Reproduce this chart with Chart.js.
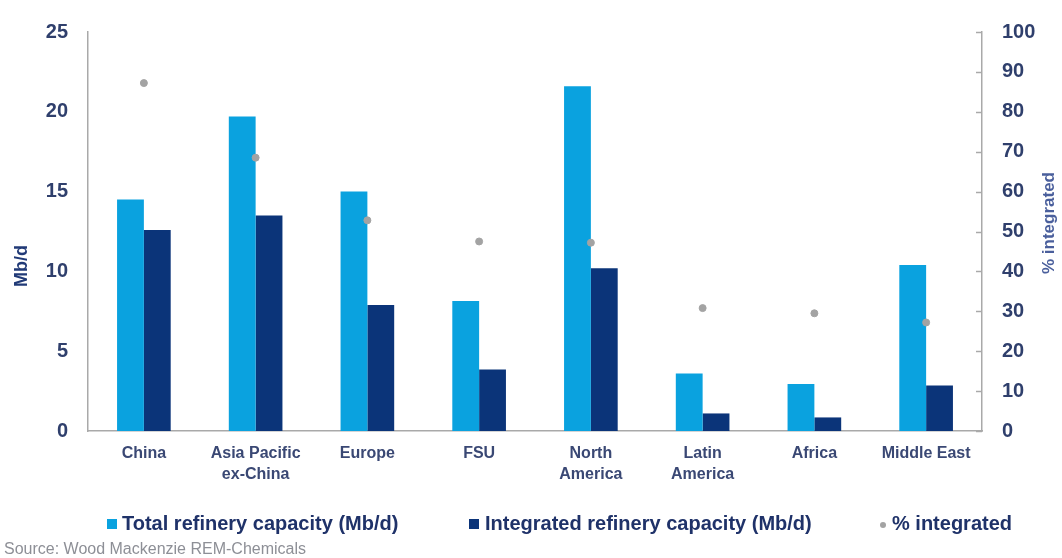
<!DOCTYPE html>
<html>
<head>
<meta charset="utf-8">
<script src="https://cdn.jsdelivr.net/npm/chart.js@4.4.1/dist/chart.umd.min.js"></script>
<style>
  html, body { margin: 0; padding: 0; background: #ffffff; }
  #wrap { position: relative; width: 1062px; height: 558px; }
  canvas { display: block; }
</style>
</head>
<body>
<div id="wrap"><canvas id="chart" width="1062" height="558"></canvas></div>
<script>
// Regions
const categories = [
  'China',
  ['Asia Pacific', 'ex-China'],
  'Europe',
  'FSU',
  ['North', 'America'],
  ['Latin', 'America'],
  'Africa',
  'Middle East'
];

// Refinery capacity, Mb/d
const totalCapacity      = [14.5, 19.7, 15.0, 8.15, 21.6, 3.6, 2.95, 10.4];
const integratedCapacity = [12.6, 13.5, 7.9, 3.85, 10.2, 1.1, 0.85, 2.85];

// Share of capacity that is integrated, %
const pctIntegrated = [87.2, 68.5, 52.8, 47.5, 47.2, 30.8, 29.5, 27.2];

const leftTicks  = [0, 5, 10, 15, 20, 25];
const rightTicks = [0, 10, 20, 30, 40, 50, 60, 70, 80, 90, 100];

const seriesNames = [
  'Total refinery capacity (Mb/d)',
  'Integrated refinery capacity (Mb/d)',
  '% integrated'
];
const sourceNote = 'Source: Wood Mackenzie REM-Chemicals';

const LIGHT = '#0aa2df';
const DARK  = '#0b3479';
const DOT   = '#a3a3a3';
const AXIS  = '#a9a9a9';
const TICK_TEXT = '#2f3f6c';
const FONT = '"Liberation Sans", Arial, sans-serif';

// Axis titles, inward tick marks on the right axis, legend and source line
const decorations = {
  id: 'decorations',
  afterDraw(chart) {
    const ctx = chart.ctx;
    const y1 = chart.scales.y1;
    const area = chart.chartArea;
    ctx.save();

    // right axis: tick marks pointing into the plot
    ctx.strokeStyle = AXIS;
    ctx.lineWidth = 1.5;
    rightTicks.forEach(v => {
      const py = Math.round(y1.getPixelForValue(v)) + 0.5;
      ctx.beginPath();
      ctx.moveTo(area.right - 6, py);
      ctx.lineTo(area.right, py);
      ctx.stroke();
    });

    // axis titles, both reading bottom-to-top
    ctx.font = 'bold 18px ' + FONT;
    ctx.fillStyle = '#213a77';
    ctx.textAlign = 'center';
    ctx.textBaseline = 'middle';
    ctx.translate(22, 266);
    ctx.rotate(-Math.PI / 2);
    ctx.fillText('Mb/d', 0, 0);
    ctx.setTransform(1, 0, 0, 1, 0, 0);

    ctx.font = 'bold 17px ' + FONT;
    ctx.fillStyle = '#4a5f9c';
    ctx.translate(1049, 223);
    ctx.rotate(-Math.PI / 2);
    ctx.fillText('% integrated', 0, 0);
    ctx.setTransform(1, 0, 0, 1, 0, 0);

    // legend
    const ly = 524;
    const ds = chart.data.datasets;
    ctx.font = 'bold 20px ' + FONT;
    ctx.textAlign = 'left';
    ctx.textBaseline = 'middle';
    ctx.fillStyle = ds[0].backgroundColor;
    ctx.fillRect(107, ly - 5, 10, 10);
    ctx.fillStyle = ds[1].backgroundColor;
    ctx.fillRect(469, ly - 5, 10, 10);
    ctx.fillStyle = ds[2].backgroundColor;
    ctx.beginPath();
    ctx.arc(883, ly + 1, 3, 0, Math.PI * 2);
    ctx.fill();
    ctx.fillStyle = '#1f3269';
    ctx.fillText(ds[0].label, 122, ly);
    ctx.fillText(ds[1].label, 485, ly);
    ctx.fillText(ds[2].label, 892, ly);

    // source
    ctx.font = '16px ' + FONT;
    ctx.fillStyle = '#8d8f96';
    ctx.fillText(sourceNote, 4, 550);
    ctx.restore();
  }
};

new Chart(document.getElementById('chart'), {
  data: {
    labels: categories,
    datasets: [
      {
        type: 'bar',
        label: seriesNames[0],
        data: totalCapacity,
        yAxisID: 'y',
        backgroundColor: LIGHT,
        barPercentage: 1.0,
        categoryPercentage: 0.48,
        order: 1
      },
      {
        type: 'bar',
        label: seriesNames[1],
        data: integratedCapacity,
        yAxisID: 'y',
        backgroundColor: DARK,
        barPercentage: 1.0,
        categoryPercentage: 0.48,
        order: 1
      },
      {
        type: 'line',
        label: seriesNames[2],
        data: pctIntegrated,
        yAxisID: 'y1',
        showLine: false,
        pointRadius: 3.5,
        pointBackgroundColor: DOT,
        pointBorderColor: DOT,
        backgroundColor: DOT,
        borderColor: DOT,
        order: 0
      }
    ]
  },
  options: {
    responsive: false,
    animation: false,
    layout: { padding: { top: 26, left: 0, right: 0, bottom: 0 } },
    plugins: {
      legend: { display: false },
      tooltip: { enabled: false }
    },
    scales: {
      x: {
        offset: true,
        grid: { display: false, drawTicks: false },
        border: { display: true, color: AXIS, width: 1.5 },
        ticks: {
          padding: 12,
          color: '#3a4874',
          font: { family: FONT, size: 16, weight: 'bold', lineHeight: 1.3 },
          maxRotation: 0,
          autoSkip: false
        },
        afterFit(scale) { scale.height = 127; }
      },
      y: {
        position: 'left',
        min: 0,
        max: 25,
        afterBuildTicks(scale) { scale.ticks = leftTicks.map(v => ({ value: v })); },
        grid: { display: false, drawTicks: false },
        border: { display: true, color: AXIS, width: 1.5 },
        ticks: {
          padding: 20,
          color: TICK_TEXT,
          font: { family: FONT, size: 20, weight: 'bold' }
        },
        afterFit(scale) { scale.width = 88; }
      },
      y1: {
        position: 'right',
        min: 0,
        max: 100,
        afterBuildTicks(scale) { scale.ticks = rightTicks.map(v => ({ value: v })); },
        grid: { display: false, drawTicks: false },
        border: { display: true, color: AXIS, width: 1.5 },
        ticks: {
          padding: 20,
          color: TICK_TEXT,
          font: { family: FONT, size: 20, weight: 'bold' }
        },
        afterFit(scale) { scale.width = 80; }
      }
    }
  },
  plugins: [decorations]
});
</script>
</body>
</html>
